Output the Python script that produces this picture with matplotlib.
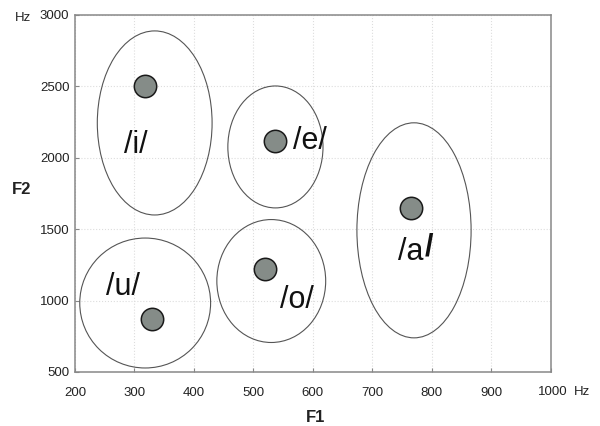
import matplotlib
matplotlib.use("Agg")
import matplotlib.pyplot as plt
from matplotlib.patches import Ellipse

plt.rcParams['font.family'] = ['Liberation Sans', 'DejaVu Sans']

# vowel formants (Hz)
vowels = ['/i/', '/e/', '/a', '/o/', '/u/']
f1 = [318, 536, 765, 519, 329]
f2 = [2500, 2120, 1650, 1220, 870]

# vowel region ellipses: centre F1, centre F2, width, height
ell_f1 = [334, 537, 770, 530, 318]
ell_f2 = [2244, 2076, 1492, 1137, 983]
ell_w = [193, 160, 192, 183, 220]
ell_h = [1289, 854, 1506, 861, 910]

# label positions
lab_f1 = [302, 595, 764, 574, 281]
lab_f2 = [2093, 2121, 1340, 1004, 1092]

xticks = [200, 300, 400, 500, 600, 700, 800, 900, 1000]
yticks = [500, 1000, 1500, 2000, 2500, 3000]

fig = plt.figure(figsize=(6, 4.26), dpi=100)
ax = fig.add_axes([0.125, 0.1268, 0.793, 0.838])

ax.set_xlim(200, 1000)
ax.set_ylim(500, 3000)
ax.set_xticks(xticks)
ax.set_yticks(yticks)
ax.set_xticklabels([str(t) for t in xticks[:-1]] + [''])
ax.tick_params(direction='in', length=3, color='#888888', labelsize=9.5, labelcolor='#222222')
ax.tick_params(axis='x', pad=11)
ax.tick_params(axis='y', pad=4)
ax.grid(True, linestyle=':', color='#dddddd', linewidth=0.8)
ax.set_axisbelow(True)
for s in ax.spines.values():
    s.set_color('#888888')
    s.set_linewidth(1.1)

for cx, cy, w, h in zip(ell_f1, ell_f2, ell_w, ell_h):
    ax.add_patch(Ellipse((cx, cy), w, h, fill=False, edgecolor='#555555', linewidth=0.8, zorder=2))

ax.scatter(f1, f2, s=260, color='#858c88', edgecolors='#1a1a1a', linewidths=1.1, zorder=3)

for lab, x, y in zip(vowels, lab_f1, lab_f2):
    if lab == '/a':
        ax.text(x, y, lab, fontsize=22, ha='center', va='center', color='#111111', zorder=4)
        ax.annotate('/', xy=(x, y), xytext=(13.5, 3), textcoords='offset points',
                    fontsize=22, fontweight='bold', ha='center', va='center', color='#111111')
    else:
        ax.text(x, y, lab, fontsize=22, ha='center', va='center', color='#111111', zorder=4)

fig.text(23 / 600, 1 - 18 / 426, 'Hz', fontsize=9.5, ha='center', va='center', color='#222222')
fig.text(553 / 600, 1 - 392 / 426, '1000', fontsize=9.5, ha='center', va='center', color='#222222')
fig.text(582 / 600, 1 - 392 / 426, 'Hz', fontsize=9.5, ha='center', va='center', color='#222222')
fig.text(316 / 600, 1 - 417 / 426, 'F1', fontsize=12, fontweight='bold', ha='center', va='center', color='#222222')
fig.text(22 / 600, 1 - 190 / 426, 'F2', fontsize=12, fontweight='bold', ha='center', va='center', color='#222222')

fig.savefig('out.png', dpi=100)
